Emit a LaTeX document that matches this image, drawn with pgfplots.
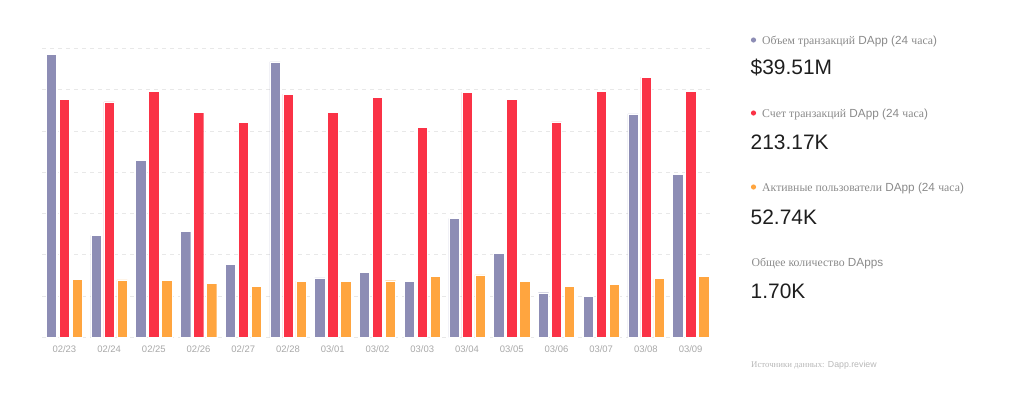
\documentclass[border=0pt]{standalone}
\usepackage{fontspec}
\setmainfont{Liberation Sans}
\newfontfamily\cyr{Liberation Serif}
\usepackage{pgfplots}
\pgfplotsset{compat=1.18}
\usepackage{pgfplotstable}
\definecolor{cpurple}{HTML}{8D8DB5}
\definecolor{cred}{HTML}{FA3246}
\definecolor{corange}{HTML}{FFA53F}
\definecolor{gridc}{HTML}{E8E8E8}
\definecolor{tickc}{HTML}{A8A8A8}
\definecolor{labc}{HTML}{8A8A8A}
\definecolor{numc}{HTML}{1E1E1E}
\definecolor{srcc}{HTML}{B8B8B8}

\pgfplotstableread{
x vol cnt usr
0  6.86 5.76 1.40
1  2.47 5.70 1.39
2  4.28 5.96 1.38
3  2.57 5.45 1.31
4  1.77 5.21 1.23
5  6.67 5.89 1.36
6  1.44 5.45 1.35
7  1.58 5.82 1.37
8  1.36 5.09 1.48
9  2.88 5.94 1.51
10 2.03 5.76 1.36
11 1.08 5.22 1.23
12 0.99 5.95 1.29
13 5.41 6.30 1.42
14 3.95 5.96 1.47
}\data

\begin{document}
\begin{tikzpicture}
\path[use as bounding box] (0bp,0bp) rectangle (1024bp,-395bp);
\begin{axis}[
  at={(42bp,-337.3bp)}, anchor=south west,
  scale only axis, width=671bp, height=289bp,
  xmin=-0.5, xmax=14.5, ymin=0, ymax=7,
  ybar=2.7bp, bar width=10.3bp,
  axis line style={draw=none},
  major tick length=0pt,
  ytick={0,1,...,7}, yticklabels={},
  ymajorgrids,
  grid style={gridc, line width=0.6bp, dash pattern=on 4bp off 4bp},
  xtick=data,
  xticklabels={02/23,02/24,02/25,02/26,02/27,02/28,03/01,03/02,03/03,03/04,03/05,03/06,03/07,03/08,03/09},
  xticklabel style={font=\fontsize{9.5}{11}\selectfont, text=tickc, yshift=-4.5bp},
  clip=false,
]
\addplot[fill=cpurple, draw=white, line width=0.4bp] table[x=x,y=vol] {\data};
\addplot[fill=cred, draw=white, line width=0.4bp] table[x=x,y=cnt] {\data};
\addplot[fill=corange, draw=white, line width=0.4bp] table[x=x,y=usr] {\data};
\end{axis}

\fill[cpurple] (753.5bp,-40bp) circle (2.6bp);
\node[anchor=base west, inner sep=0, font=\fontsize{11.8}{13}\selectfont, text=labc] at (762bp,-44.5bp) {{\cyr Объем транзакций} DApp (24 {\cyr часа})};
\node[anchor=base west, inner sep=0, font=\fontsize{21}{24}\selectfont, text=numc] at (750.5bp,-74.5bp) {\$39.51M};

\fill[cred] (753.5bp,-113bp) circle (2.6bp);
\node[anchor=base west, inner sep=0, font=\fontsize{11.8}{13}\selectfont, text=labc] at (762bp,-117.5bp) {{\cyr Счет транзакций} DApp (24 {\cyr часа})};
\node[anchor=base west, inner sep=0, font=\fontsize{21}{24}\selectfont, text=numc] at (750.5bp,-149bp) {213.17K};

\fill[corange] (753.5bp,-187bp) circle (2.6bp);
\node[anchor=base west, inner sep=0, font=\fontsize{11.8}{13}\selectfont, text=labc] at (762bp,-191.5bp) {{\cyr Активные пользователи} DApp (24 {\cyr часа})};
\node[anchor=base west, inner sep=0, font=\fontsize{21}{24}\selectfont, text=numc] at (750.5bp,-224bp) {52.74K};

\node[anchor=base west, inner sep=0, font=\fontsize{11.8}{13}\selectfont, text=labc] at (751.5bp,-266.5bp) {{\cyr Общее количество} DApps};
\node[anchor=base west, inner sep=0, font=\fontsize{21}{24}\selectfont, text=numc] at (750.5bp,-298bp) {1.70K};

\node[anchor=base west, inner sep=0, font=\fontsize{8.8}{10}\selectfont, text=srcc] at (751bp,-367bp) {{\cyr Источники данных:} Dapp.review};
\end{tikzpicture}
\end{document}
